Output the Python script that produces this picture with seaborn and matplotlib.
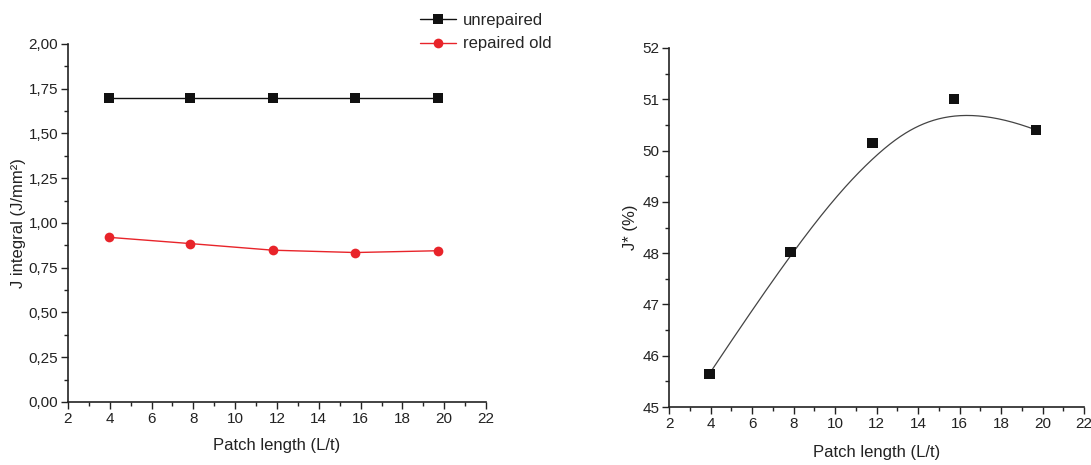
import numpy as np
import pandas as pd
import matplotlib
matplotlib.use("Agg")
import matplotlib.pyplot as plt
from matplotlib.ticker import FuncFormatter, MultipleLocator
import seaborn as sns

# ---- data ----
patch_length = [3.95, 7.85, 11.8, 15.75, 19.7]
j_unrepaired = [1.70, 1.70, 1.70, 1.70, 1.70]
j_repaired_old = [0.92, 0.885, 0.848, 0.835, 0.845]
j_star = [45.65, 48.02, 50.15, 51.0, 50.4]
series_names = ["unrepaired", "repaired old"]

sns.set_theme(style="ticks")
plt.rcParams['font.family'] = ['Liberation Sans', 'DejaVu Sans']

fig = plt.figure(figsize=(10.91, 4.65), dpi=100)
ax1 = fig.add_axes([0.0623, 0.1355, 0.3832, 0.7699])
ax2 = fig.add_axes([0.6132, 0.1247, 0.3804, 0.7721])

df = pd.DataFrame({
    "x": patch_length * 2,
    "y": j_unrepaired + j_repaired_old,
    "series": [series_names[0]] * 5 + [series_names[1]] * 5,
})
sns.lineplot(data=df, x="x", y="y", hue="series", style="series",
             markers={"unrepaired": "s", "repaired old": "o"}, dashes=False,
             palette={"unrepaired": "#111111", "repaired old": "#e8242a"},
             markersize=7, markeredgewidth=0, linewidth=1.0, ax=ax1)

ax1.set_xlim(2, 22)
ax1.set_ylim(0, 2.0)
ax1.xaxis.set_major_locator(MultipleLocator(2))
ax1.xaxis.set_minor_locator(MultipleLocator(1))
ax1.yaxis.set_major_locator(MultipleLocator(0.25))
ax1.yaxis.set_minor_locator(MultipleLocator(0.125))
ax1.yaxis.set_major_formatter(FuncFormatter(lambda v, p: f"{v:.2f}".replace(".", ",")))
ax1.set_xlabel("Patch length (L/t)", fontsize=12, color="#222222", labelpad=9)
ax1.set_ylabel("J integral (J/mm²)", fontsize=12, color="#222222", labelpad=2)
leg = ax1.legend(loc="upper left", bbox_to_anchor=(0.825, 1.105), frameon=False,
                 fontsize=12, handlelength=2.2, borderaxespad=0, labelspacing=0.5,
                 handletextpad=0.4)

# B-spline (clamped cubic) through control points for right panel
def bspline(cx, cy, n=300, k=3):
    m = len(cx)
    inner = np.linspace(0, 1, m - k + 1)
    knots = np.concatenate([[0] * k, inner, [1] * k])
    t = np.linspace(0, 1 - 1e-9, n)
    def N(i, d, u):
        if d == 0:
            return np.where((knots[i] <= u) & (u < knots[i + 1]), 1.0, 0.0)
        a = 0.0
        b = 0.0
        if knots[i + d] != knots[i]:
            a = (u - knots[i]) / (knots[i + d] - knots[i]) * N(i, d - 1, u)
        if knots[i + d + 1] != knots[i + 1]:
            b = (knots[i + d + 1] - u) / (knots[i + d + 1] - knots[i + 1]) * N(i + 1, d - 1, u)
        return a + b
    B = np.array([N(i, k, t) for i in range(m)])
    return B.T @ np.array(cx), B.T @ np.array(cy)

sx, sy = bspline(patch_length, j_star)
sns.lineplot(x=sx, y=sy, sort=False, color="#444444", linewidth=0.9, ax=ax2)
sns.scatterplot(x=patch_length, y=j_star, marker="s", s=55, color="#111111",
                edgecolor="none", ax=ax2, zorder=3)
ax2.set_xlim(2, 22)
ax2.set_ylim(45, 52)
ax2.xaxis.set_major_locator(MultipleLocator(2))
ax2.xaxis.set_minor_locator(MultipleLocator(1))
ax2.yaxis.set_major_locator(MultipleLocator(1))
ax2.yaxis.set_minor_locator(MultipleLocator(0.5))
ax2.set_xlabel("Patch length (L/t)", fontsize=12, color="#222222", labelpad=10)
ax2.set_ylabel("J* (%)", fontsize=12, color="#222222", labelpad=3)

for ax in (ax1, ax2):
    sns.despine(ax=ax)
    for s in ("left", "bottom"):
        ax.spines[s].set_color("#222222")
        ax.spines[s].set_linewidth(1.2)
    ax.tick_params(which="major", direction="out", length=5, width=1, labelsize=11,
                   colors="#222222", pad=2)
    ax.tick_params(which="minor", direction="out", length=3, width=1, colors="#222222")

fig.savefig("out.png", dpi=100)
